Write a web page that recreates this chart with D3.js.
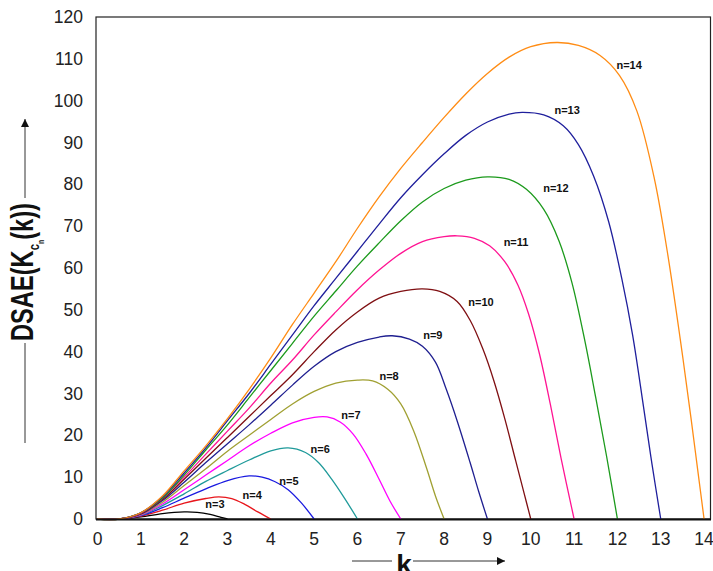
<!DOCTYPE html>
<html>
<head>
<meta charset="utf-8">
<script src="https://cdn.jsdelivr.net/npm/d3@7"></script>
<style>
  body { margin: 0; background: #fff; }
  svg { display: block; font-family: "Liberation Sans", Arial, sans-serif; }
</style>
</head>
<body>
<div id="chart"></div>
<script>
// curves: [k, DSAE]
const n3 = [[0,0],[0.5,0],[1,0.5],[1.5,1.3],[2,1.7],[2.3,1.6],[2.6,1.1],[2.85,0.4],[3,0]];
const n4 = [[0,0],[0.5,0],[1,0.7],[1.5,2.1],[2,3.8],[2.5,4.9],[2.8,5.3],[3.1,4.9],[3.4,3.5],[3.7,1.7],[4,0]];
const n5 = [[0,0],[0.5,0],[1,0.8],[1.5,2.7],[2,5],[2.5,7.2],[3,9.2],[3.5,10.3],[3.8,10],[4.1,8.9],[4.4,7],[4.7,3.9],[5,0]];
const n6 = [[0,0],[0.5,0],[1,0.9],[1.5,3.2],[2,6],[2.5,9],[3,11.6],[3.5,14.1],[4,16.3],[4.4,17],[4.8,15.9],[5.1,13.5],[5.4,9.6],[5.7,5],[6,0]];
const n7 = [[0,0],[0.5,0],[1,1],[1.5,3.6],[2,7],[2.5,10.5],[3,14],[3.5,17.5],[4,20.5],[4.5,23],[5,24.3],[5.3,24.4],[5.6,23.2],[5.9,20.3],[6.2,15.5],[6.5,9.5],[6.75,4.3],[7,0]];
const n8 = [[0,0],[0.5,0],[1,1.1],[1.5,4],[2,8],[2.5,12],[3,16.2],[3.5,20],[4,23.8],[4.5,27.5],[5,30.5],[5.5,32.5],[6,33.2],[6.35,33],[6.7,31],[7,27.5],[7.3,21],[7.6,12],[7.8,5.5],[8,0]];
const n9 = [[0,0],[0.5,0],[1,1.2],[1.5,4.4],[2,8.8],[2.5,13.5],[3,18],[3.5,22.5],[4,27.2],[4.5,32],[5,36.5],[5.5,40],[6,42.2],[6.5,43.5],[6.8,43.8],[7.2,43],[7.5,41.3],[7.8,37.5],[8.05,31],[8.3,23.5],[8.6,13.5],[8.8,6.5],[9,0]];
const n10 = [[0,0],[0.5,0],[1,1.3],[1.5,4.7],[2,9.5],[2.5,14.5],[3,19.5],[3.5,24.5],[4,29.5],[4.5,34.5],[5,40],[5.5,45.2],[6,49.5],[6.5,52.8],[7,54.4],[7.5,55],[7.9,54.4],[8.3,52],[8.6,47.5],[8.9,40.5],[9.15,33],[9.4,24],[9.65,14],[9.85,6],[10,0]];
const n11 = [[0,0],[0.5,0],[1,1.4],[1.5,5],[2,10],[2.5,15.5],[3,21],[3.5,26.5],[4,32.5],[4.5,38],[5,44],[5.5,49.5],[6,54.8],[6.5,59.5],[7,63.5],[7.5,66.3],[8,67.5],[8.3,67.7],[8.7,67.1],[9.05,65.3],[9.4,61.5],[9.7,56],[9.95,49],[10.2,39.5],[10.45,27.5],[10.7,14.5],[11,0]];
const n12 = [[0,0],[0.5,0],[1,1.5],[1.5,5],[2,10.5],[2.5,16.5],[3,22.5],[3.5,29],[4,35.5],[4.5,42],[5,48.5],[5.5,54.5],[6,60.5],[6.5,66],[7,71.3],[7.5,75.8],[8,79],[8.5,81],[9,81.8],[9.5,81.2],[9.9,78.8],[10.3,74],[10.65,66.5],[10.95,56.5],[11.25,42.5],[11.5,29],[11.75,15],[12,0]];
const n13 = [[0,0],[0.5,0],[1,1.5],[1.5,5.3],[2,11],[2.5,17],[3,23.5],[3.5,30],[4,37],[4.5,44],[5,51],[5.5,57.5],[6,64],[6.5,70.5],[7,76.8],[7.5,82.3],[8,87.3],[8.5,91.7],[9,94.9],[9.5,96.8],[9.8,97.2],[10.3,96.6],[10.75,94],[11.1,89.5],[11.45,82],[11.8,71],[12.1,57.5],[12.35,44],[12.6,27],[12.8,13],[13,0]];
const n14 = [[0,0],[0.5,0],[1,1.5],[1.5,5.5],[2,11.5],[2.5,17.5],[3,24],[3.5,31],[4,38.5],[4.5,46.5],[5,54],[5.5,61.5],[6,69.5],[6.5,77],[7,83.8],[7.5,90],[8,96],[8.5,101.6],[9,106.5],[9.5,110.4],[10,112.9],[10.6,113.9],[11.1,113.2],[11.6,110.8],[12.05,106],[12.45,97.5],[12.85,81.5],[13.15,64],[13.45,43],[13.7,24],[13.85,12],[14,0]];

const nValues = [3, 4, 5, 6, 7, 8, 9, 10, 11, 12, 13, 14];
const curves = [n3, n4, n5, n6, n7, n8, n9, n10, n11, n12, n13, n14];
// where each "n=.." label sits, in data units [k, DSAE]
const labelAt = [[2.71,3.6],[3.57,5.7],[4.42,9.1],[5.14,16.7],[5.85,24.9],[6.73,34.2],[7.74,44.0],[8.85,51.9],[9.66,66.2],[10.58,79.1],[10.84,97.8],[12.27,108.5]];
const colors = ["#000000", "#e8161c", "#1a1ae0", "#1f9a9a", "#ff00ff", "#a0a032", "#1f1f90", "#7f0f12", "#ff1493", "#1c9a1c", "#1f1f9c", "#ff8c14"];

const xTicks = d3.range(0, 15);
const yTicks = d3.range(0, 121, 10);

const width = 713, height = 571;

const svg = d3.select("#chart").append("svg")
    .attr("width", width)
    .attr("height", height);

const x = d3.scaleLinear().domain([0, 14.16]).range([97.5, 711]);
const y = d3.scaleLinear().domain([0, 120]).range([519, 17]);

// frame
svg.append("rect")
    .attr("x", x(0) - 1.5).attr("y", y(120))
    .attr("width", x(14.16) - x(0) + 1).attr("height", y(0) - y(120))
    .attr("fill", "none")
    .attr("stroke", "#222")
    .attr("stroke-width", 1.2);

// tick labels, no tick marks
svg.append("g")
    .selectAll("text")
    .data(yTicks)
    .join("text")
        .attr("x", 83)
        .attr("y", d => y(d))
        .attr("dy", "0.35em")
        .attr("text-anchor", "end")
        .attr("font-size", 17.5)
        .attr("fill", "#222")
        .text(d => d);

svg.append("g")
    .selectAll("text")
    .data(xTicks)
    .join("text")
        .attr("x", d => x(d))
        .attr("y", 545)
        .attr("text-anchor", "middle")
        .attr("font-size", 17.5)
        .attr("fill", "#222")
        .text(d => d);

const line = d3.line()
    .x(d => x(d[0]))
    .y(d => y(Math.max(0, d[1])))
    .curve(d3.curveCatmullRom.alpha(0.5));

svg.append("g")
    .selectAll("path")
    .data(curves)
    .join("path")
        .attr("d", line)
        .attr("fill", "none")
        .attr("stroke", (d, i) => colors[i])
        .attr("stroke-width", 1.3);

// bottom axis line, drawn over the curves
svg.append("line")
    .attr("x1", x(0) - 1.5).attr("x2", 711)
    .attr("y1", y(0) + 0.5).attr("y2", y(0) + 0.5)
    .attr("stroke", "#111")
    .attr("stroke-width", 2.2);

svg.append("g")
    .selectAll("text")
    .data(labelAt)
    .join("text")
        .attr("x", d => x(d[0]))
        .attr("y", d => y(d[1]))
        .attr("dy", "0.35em")
        .attr("text-anchor", "middle")
        .attr("font-size", 11)
        .attr("font-weight", "bold")
        .attr("fill", "#111")
        .text((d, i) => "n=" + nValues[i]);

// arrowhead
svg.append("defs").append("marker")
    .attr("id", "arrow")
    .attr("viewBox", "0 0 10 10")
    .attr("refX", 10).attr("refY", 5)
    .attr("markerWidth", 14).attr("markerHeight", 8)
    .attr("markerUnits", "userSpaceOnUse")
    .attr("orient", "auto")
    .append("path")
        .attr("d", "M0,0L10,5L0,10Z")
        .attr("fill", "#111");

// x axis title
svg.append("line")
    .attr("x1", 352).attr("x2", 392)
    .attr("y1", 561).attr("y2", 561)
    .attr("stroke", "#333").attr("stroke-width", 1);
svg.append("line")
    .attr("x1", 413).attr("x2", 505)
    .attr("y1", 561).attr("y2", 561)
    .attr("stroke", "#333").attr("stroke-width", 1)
    .attr("marker-end", "url(#arrow)");
svg.append("text")
    .attr("x", 404).attr("y", 574)
    .attr("text-anchor", "middle")
    .attr("font-size", 28)
    .attr("font-weight", "bold")
    .attr("fill", "#111")
    .text("k");

// y axis title
svg.append("line")
    .attr("x1", 25).attr("x2", 25)
    .attr("y1", 443).attr("y2", 343)
    .attr("stroke", "#333").attr("stroke-width", 1);
svg.append("line")
    .attr("x1", 25).attr("x2", 25)
    .attr("y1", 198).attr("y2", 119)
    .attr("stroke", "#333").attr("stroke-width", 1)
    .attr("marker-end", "url(#arrow)");

const ylab = svg.append("text")
    .attr("transform", "translate(33,341) rotate(-90)")
    .attr("font-size", 31)
    .attr("font-weight", "bold")
    .attr("fill", "#111")
    .attr("textLength", 138)
    .attr("lengthAdjust", "spacingAndGlyphs");
ylab.append("tspan").text("DSAE(K");
ylab.append("tspan").attr("font-size", 15).attr("dy", 6).text("c");
ylab.append("tspan").attr("font-size", 9).attr("dy", 5).text("n");
ylab.append("tspan").attr("dy", -11).text("(k))");
</script>
</body>
</html>
